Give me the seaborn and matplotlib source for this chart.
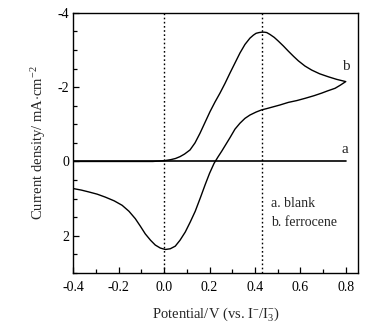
import numpy as np
import pandas as pd
import matplotlib
matplotlib.use("Agg")
import matplotlib.pyplot as plt
import seaborn as sns
from matplotlib.ticker import MultipleLocator

# Cyclic voltammogram of ferrocene vs. blank electrolyte
fwd_potential = [-0.40, -0.20, -0.05, 0.00, 0.03, 0.05, 0.07, 0.09, 0.114, 0.136,
                 0.158, 0.18, 0.202, 0.224, 0.246, 0.268, 0.290, 0.312, 0.334, 0.356,
                 0.378, 0.393, 0.405, 0.418, 0.43, 0.442, 0.452, 0.466, 0.485, 0.503,
                 0.525, 0.547, 0.57, 0.591, 0.62, 0.650, 0.685, 0.723, 0.76, 0.80]
fwd_current = [0.0, 0.0, 0.0, -0.02, -0.05, -0.08, -0.13, -0.20, -0.31, -0.50,
               -0.76, -1.05, -1.34, -1.60, -1.84, -2.10, -2.38, -2.65, -2.92, -3.15,
               -3.32, -3.40, -3.45, -3.47, -3.48, -3.48, -3.47, -3.42, -3.34, -3.24,
               -3.11, -2.97, -2.83, -2.71, -2.57, -2.46, -2.36, -2.28, -2.21, -2.15]
rev_potential = [0.80, 0.775, 0.753, 0.72, 0.694, 0.66, 0.621, 0.585, 0.547, 0.51,
                 0.474, 0.45, 0.43, 0.405, 0.378, 0.356, 0.334, 0.312, 0.290, 0.272,
                 0.254, 0.237, 0.220, 0.20, 0.181, 0.16, 0.137, 0.115, 0.093, 0.07,
                 0.049, 0.027, 0.005, -0.017, -0.039, -0.06, -0.083, -0.105, -0.127,
                 -0.155, -0.185, -0.22, -0.259, -0.295, -0.332, -0.365, -0.40]
rev_current = [-2.15, -2.05, -1.97, -1.90, -1.84, -1.77, -1.70, -1.64, -1.59, -1.52,
               -1.46, -1.42, -1.39, -1.33, -1.25, -1.16, -1.03, -0.87, -0.64, -0.46,
               -0.28, -0.12, 0.05, 0.32, 0.62, 0.97, 1.34, 1.63, 1.90, 2.12,
               2.28, 2.35, 2.37, 2.33, 2.25, 2.12, 1.95, 1.74, 1.54,
               1.34, 1.18, 1.06, 0.96, 0.88, 0.82, 0.77, 0.73]
blank_potential = [-0.40, 0.00, 0.40, 0.80]
blank_current = [0.0, 0.0, 0.0, 0.0]

peak_lines = [0.0, 0.43]
x_ticks = [-0.4, -0.2, 0.0, 0.2, 0.4, 0.6, 0.8]
y_ticks = [-4, -2, 0, 2]

sns.set_style("ticks")
plt.rcParams["font.family"] = ["Liberation Serif", "DejaVu Serif"]
plt.rcParams["mathtext.fontset"] = "custom"
plt.rcParams["mathtext.rm"] = "Liberation Serif"
plt.rcParams["mathtext.it"] = "Liberation Serif:italic"

ferro = pd.DataFrame({
    "potential": fwd_potential + rev_potential,
    "current": fwd_current + rev_current,
})
blank = pd.DataFrame({"potential": blank_potential, "current": blank_current})

fig = plt.figure(figsize=(3.9, 3.3), dpi=100)
ax = fig.add_axes([0.188, 0.173, 0.730, 0.788])

sns.lineplot(data=blank, x="potential", y="current", sort=False, estimator=None,
             color="black", lw=1.2, ax=ax)
sns.lineplot(data=ferro, x="potential", y="current", sort=False, estimator=None,
             color="black", lw=1.0, ax=ax)

for xv in peak_lines:
    ax.axvline(xv, color="black", ls=(0, (1.2, 1.8)), lw=1.0)

ax.set_xlim(-0.4, 0.854)
ax.set_ylim(3, -4)
ax.set_xticks(x_ticks)
ax.set_xticklabels([f"{v:.1f}" for v in x_ticks])
ax.set_yticks(y_ticks)
ax.set_yticklabels([str(v) for v in y_ticks])
ax.xaxis.set_minor_locator(MultipleLocator(0.1))
ax.yaxis.set_minor_locator(MultipleLocator(0.5))
ax.tick_params(which="both", direction="in", labelsize=10, color="black",
               labelcolor="black")
ax.tick_params(which="major", length=4, width=0.9)
ax.tick_params(which="minor", length=3, width=0.9)
ax.tick_params(axis="x", pad=6)
ax.tick_params(axis="y", pad=3)
for sp in ax.spines.values():
    sp.set_visible(True)
    sp.set_color("black")
    sp.set_linewidth(1.0)

ax.set_xlabel(r"Potential/V (vs. I$^{-}$/I$_3^{-}$)", fontsize=10.5, labelpad=8)
ax.set_ylabel(r"Current density/ mA$\cdot$cm$^{-2}$", fontsize=10.5, labelpad=7)

ax.text(0.795, -0.32, "a", fontsize=11, ha="center", va="center")
ax.text(0.80, -2.55, "b", fontsize=11, ha="center", va="center")
ax.text(0.47, 1.14, "a. blank", fontsize=10, ha="left", va="center")
ax.text(0.47, 1.65, "b. ferrocene", fontsize=10, ha="left", va="center")

fig.savefig("out.png", dpi=100)
